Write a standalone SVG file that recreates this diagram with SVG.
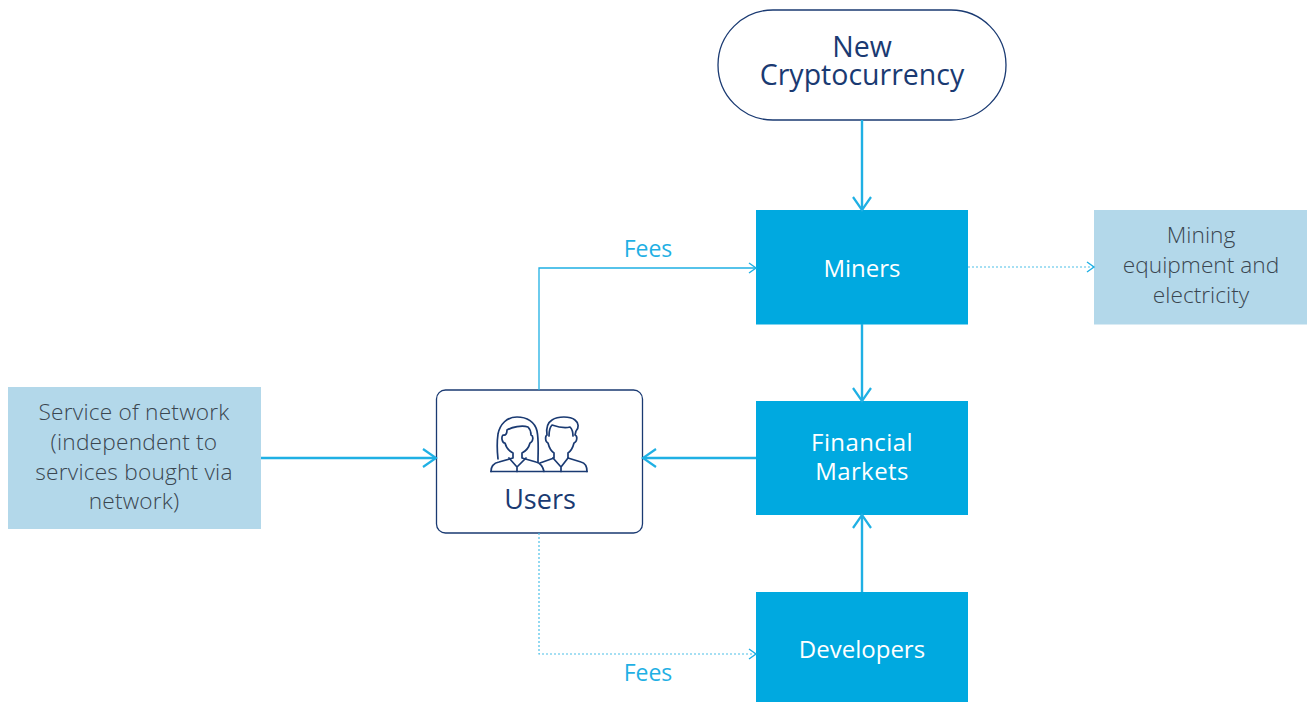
<svg xmlns="http://www.w3.org/2000/svg" width="1309" height="702" viewBox="0 0 1309 702">
<style>
text{font-family:"Open Sans","Liberation Sans",sans-serif;text-anchor:middle}
.solid{fill:#00a9e0}.pale{fill:#b3d8ea}
.w{fill:#fff;font-size:24px}.d{fill:#3a4650;font-size:22.700px;font-weight:300}
.n{fill:#1a3a72;font-size:28.500px}.f{fill:#1fb0e4;font-size:23px}
.c{fill:none;stroke:#1fb0e4}.t{stroke-width:2.400}.th{stroke-width:1.300}.dot{stroke-width:1.200;stroke-dasharray:2 2;stroke:#4cc0e8}
.u{fill:none;stroke:#1a3a72;stroke-width:1.700;stroke-linejoin:round;stroke-linecap:round}
</style>
<defs>
<marker id="a" markerUnits="userSpaceOnUse" markerWidth="24" markerHeight="24" refX="15" refY="12" orient="auto"><path d="M2 3L15 12L2 21" fill="none" stroke="#1fb0e4" stroke-width="2.200" transform="translate(0 0)"/></marker>
<marker id="b" markerUnits="userSpaceOnUse" markerWidth="14" markerHeight="14" refX="11" refY="7" orient="auto"><path d="M4 2L11 7L4 12" fill="none" stroke="#1fb0e4" stroke-width="1.400"/></marker>
</defs>
<g id="new-cryptocurrency">
<rect x="718" y="10" width="288" height="110" rx="55" fill="#fff" stroke="#1a3a72" stroke-width="1.300"/>
<text class="n"><tspan x="862" y="57">New</tspan><tspan x="862" y="85">Cryptocurrency</tspan></text>
</g>
<g id="miners"><rect class="solid" x="756" y="210" width="212" height="114.500"/><text class="w" x="862" y="277">Miners</text></g>
<g id="mining-equipment"><rect class="pale" x="1094" y="210" width="213" height="114.500"/>
<text class="d"><tspan x="1201" y="243">Mining</tspan><tspan x="1201" y="273">equipment and</tspan><tspan x="1201" y="303">electricity</tspan></text></g>
<g id="financial-markets"><rect class="solid" x="756" y="401" width="212" height="114"/><text class="w" letter-spacing="0.400"><tspan x="862" y="451">Financial</tspan><tspan x="862" y="480">Markets</tspan></text></g>
<g id="developers"><rect class="solid" x="756" y="592" width="212" height="110"/><text class="w" x="862" y="658">Developers</text></g>
<g id="service"><rect class="pale" x="8" y="387" width="253" height="142"/>
<text class="d" letter-spacing="0.200"><tspan x="134" y="420">Service of network</tspan><tspan x="134" y="450">(independent to</tspan><tspan x="134" y="480">services bought via</tspan><tspan x="134" y="509">network)</tspan></text></g>
<g id="users"><rect x="436.500" y="390" width="206" height="143" rx="9" fill="#fff" stroke="#1a3a72" stroke-width="1.300"/>
<g class="u">
<path d="M491 471.500H587"/>
<path d="M491 471.500C491 466 494 463 499 462L513 458V453C509 451 506 447 505 443C502 443 501 437 503 435C506 436 507 433 507 430C512 427 522 425 528 427C530 429 531 431 531 435C534 436 533 442 530 443C529 447 526 451 522 453V458L536 462C540 463 543 467 544 471.500"/>
<path d="M498 459C497 450 497 441 498 434C500 424 507 417 517 417C527 417 535 422 537 431C539 441 538 451 538 462"/>
<path d="M509 458L517 467L526 458M517 467V471.500"/>
<path d="M540 463L554 458V453C551 451 549 447 548 443C545 442 545 436 547 435C546 428 547 423 552 420C558 416 570 416 575 420C579 423 579 428 576 431L575 435C578 436 577 442 574 443C573 447 571 451 568 453V458L581 462C585 463 587 467 587 471.500"/>
<path d="M549 436C549 431 550 427 552 425C558 427 566 428 570 427C572 429 573 432 573 436"/>
<path d="M553 458L561 467L568 458M561 467V471.500"/>
</g>
<text class="n" style="font-size:27px" x="540" y="509">Users</text></g>
<g id="connectors">
<path class="c t" d="M862 120V210" marker-end="url(#a)"/>
<path class="c t" d="M862 324V401" marker-end="url(#a)"/>
<path class="c t" d="M862 592V515" marker-end="url(#a)"/>
<path class="c t" d="M756 458H643" marker-end="url(#a)"/>
<path class="c t" d="M261 458H436" marker-end="url(#a)"/>
<path class="c th" d="M539 390V268H756" marker-end="url(#b)"/>
<path class="c dot" d="M539 533V654H756" marker-end="url(#b)"/>
<path class="c dot" d="M968 267H1094" marker-end="url(#b)"/>
</g>
<text class="f" x="648" y="257">Fees</text>
<text class="f" x="648" y="681">Fees</text>
</svg>
